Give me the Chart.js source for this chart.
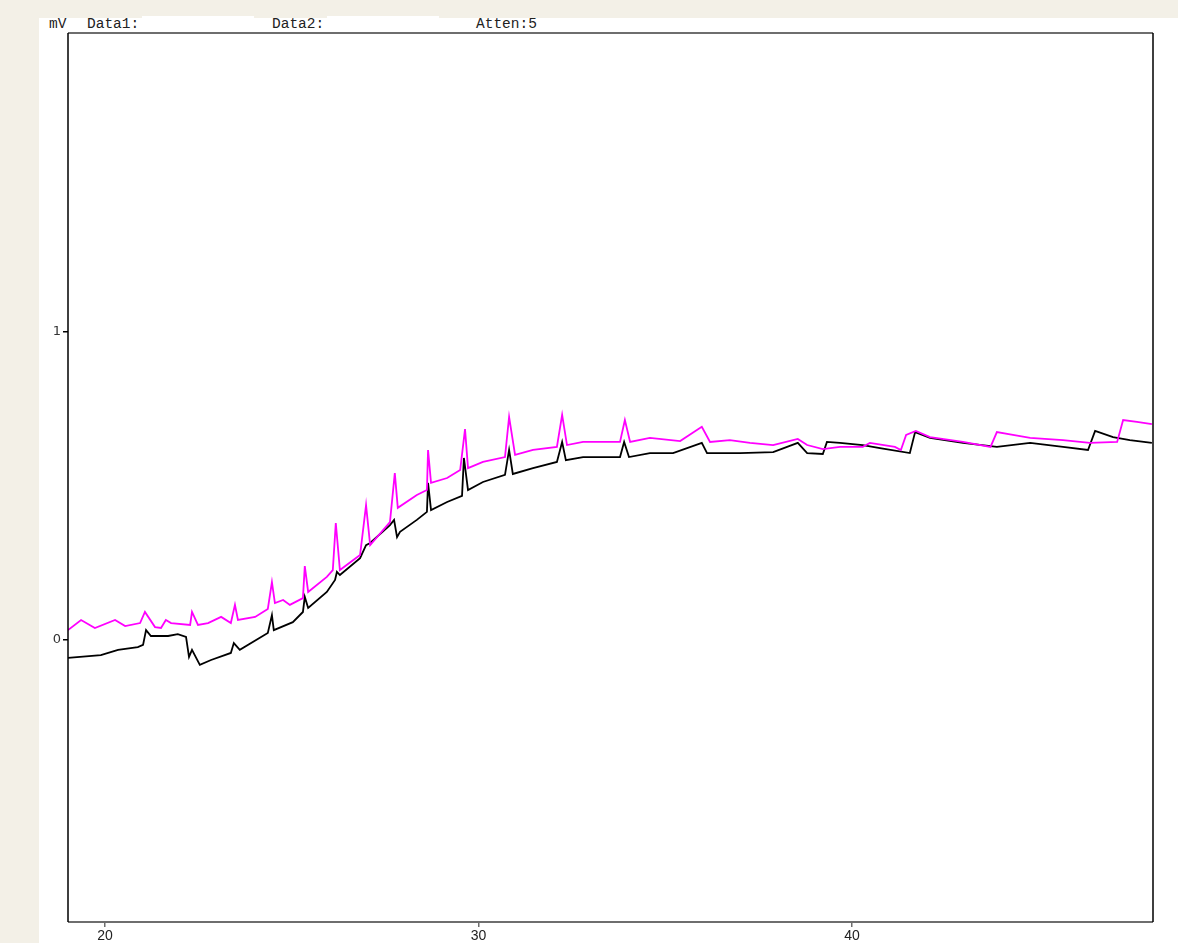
<!DOCTYPE html>
<html lang="en">
<head>
    <meta charset="UTF-8">
    <title>Chromatogram</title>
    <script src="https://cdn.jsdelivr.net/npm/chart.js"></script>
    <style>
        body { margin: 0; background: #f3f0e7; width: 1178px; height: 943px; overflow: hidden; position: relative; }
        #panel { position: absolute; left: 39px; top: 18px; width: 1139px; height: 925px; background: #fff; }
        .field { position: absolute; top: 16px; height: 6px; background: #fff; }
        .hdr { position: absolute; top: 16px; font-family: "Liberation Mono", monospace; font-size: 14.5px; color: #222; white-space: pre; }
        canvas { position: absolute; left: 39px; top: 17px; }
    </style>
</head>
<body>
    <div id="panel"></div>
    <div class="field" style="left:142px; width:112px;"></div>
    <div class="field" style="left:327px; width:112px;"></div>
    <div class="hdr" style="left:49px;">mV</div>
    <div class="hdr" style="left:87px;">Data1:</div>
    <div class="hdr" style="left:272px;">Data2:</div>
    <div class="hdr" style="left:476px;">Atten:5</div>
    <canvas id="grafico" width="1123" height="926"></canvas>

    <script>
        // retention time (min) and signal (mV)
        const blackTime = [19.01, 19.89, 20.35, 20.88, 21.02, 21.10, 21.23, 21.69, 21.95, 22.17, 22.25, 22.33, 22.54, 22.84, 23.37, 23.45, 23.61,
            24.36, 24.47, 24.52, 25.03, 25.30, 25.35, 25.44, 25.94, 26.16, 26.21, 26.29, 26.83, 26.99, 27.10, 27.63, 27.74, 27.82, 27.90,
            28.35, 28.62, 28.65, 28.73, 29.16, 29.56, 29.61, 29.72, 30.12, 30.71, 30.82, 30.92, 31.46, 32.10, 32.24, 32.34, 32.80, 33.79,
            33.90, 34.03, 34.59, 35.21, 35.98, 36.12, 37.00, 37.89, 38.55, 38.80, 39.22, 39.33, 39.68, 40.29, 40.75, 41.55, 41.69, 42.09,
            42.97, 43.88, 44.77, 45.65, 46.32, 46.51, 46.99, 47.44, 48.03];
        const blackValue = [-0.058, -0.049, -0.032, -0.023, -0.016, 0.032, 0.013, 0.013, 0.019, 0.010, -0.055, -0.032, -0.081, -0.065, -0.042, -0.010, -0.032,
            0.023, 0.081, 0.032, 0.058, 0.091, 0.140, 0.104, 0.156, 0.195, 0.221, 0.211, 0.266, 0.308, 0.315, 0.373, 0.390, 0.334, 0.351,
            0.390, 0.416, 0.510, 0.422, 0.448, 0.468, 0.591, 0.487, 0.513, 0.536, 0.617, 0.539, 0.558, 0.578, 0.643, 0.584, 0.594, 0.594,
            0.643, 0.594, 0.607, 0.607, 0.640, 0.607, 0.607, 0.610, 0.640, 0.607, 0.604, 0.643, 0.640, 0.633, 0.623, 0.607, 0.675, 0.656,
            0.640, 0.627, 0.640, 0.627, 0.617, 0.679, 0.659, 0.649, 0.640];

        const pinkTime = [19.01, 19.36, 19.73, 20.27, 20.54, 20.94, 21.07, 21.34, 21.50, 21.63, 21.77, 22.28, 22.33, 22.49, 22.76, 23.11, 23.37,
            23.48, 23.56, 24.02, 24.36, 24.47, 24.55, 24.77, 24.95, 25.30, 25.35, 25.44, 25.94, 26.10, 26.18, 26.29, 26.83, 26.99, 27.10,
            27.63, 27.76, 27.84, 28.35, 28.62, 28.65, 28.73, 29.16, 29.51, 29.64, 29.72, 30.12, 30.71, 30.82, 30.98, 31.46, 32.10, 32.24,
            32.37, 32.80, 33.79, 33.92, 34.06, 34.59, 35.40, 35.98, 36.20, 36.73, 37.27, 37.89, 38.55, 38.80, 39.22, 39.68, 40.29, 40.48,
            41.15, 41.31, 41.45, 41.71, 42.09, 42.97, 43.71, 43.88, 44.31, 44.77, 45.65, 46.37, 47.10, 47.26, 47.63, 48.03];
        const pinkValue = [0.032, 0.065, 0.039, 0.065, 0.045, 0.055, 0.091, 0.042, 0.039, 0.065, 0.055, 0.049, 0.091, 0.049, 0.055, 0.075, 0.055,
            0.114, 0.065, 0.075, 0.101, 0.188, 0.120, 0.130, 0.114, 0.136, 0.240, 0.156, 0.205, 0.227, 0.380, 0.227, 0.276, 0.438, 0.308,
            0.383, 0.542, 0.429, 0.471, 0.487, 0.617, 0.510, 0.526, 0.552, 0.685, 0.558, 0.578, 0.594, 0.724, 0.601, 0.617, 0.627, 0.731,
            0.633, 0.643, 0.643, 0.714, 0.643, 0.656, 0.646, 0.692, 0.643, 0.649, 0.640, 0.633, 0.653, 0.633, 0.620, 0.627, 0.627, 0.640,
            0.627, 0.617, 0.666, 0.679, 0.659, 0.643, 0.627, 0.675, 0.666, 0.656, 0.649, 0.640, 0.643, 0.714, 0.708, 0.701];

        const xTicks = [20, 30, 40];
        const yTicks = [0, 1];

        function toPoints(xs, ys) {
            return xs.map((x, i) => ({ x: x, y: ys[i] }));
        }

        // box round the plot area: grey top/bottom, black sides
        const frame = {
            id: 'frame',
            afterDraw(chart) {
                const a = chart.chartArea;
                const c = chart.ctx;
                c.save();
                c.lineWidth = 2;
                c.strokeStyle = '#6e6e6e';
                c.beginPath();
                c.moveTo(a.left, a.top); c.lineTo(a.right, a.top);
                c.moveTo(a.left, a.bottom); c.lineTo(a.right, a.bottom);
                c.stroke();
                c.strokeStyle = '#000';
                c.lineWidth = 1.5;
                c.beginPath();
                c.moveTo(a.left, a.top); c.lineTo(a.left, a.bottom);
                c.moveTo(a.right, a.top); c.lineTo(a.right, a.bottom);
                c.stroke();
                c.restore();
            }
        };

        const ctx = document.getElementById('grafico').getContext('2d');
        new Chart(ctx, {
            type: 'line',
            data: {
                datasets: [
                    {
                        label: 'Data2',
                        data: toPoints(pinkTime, pinkValue),
                        borderColor: '#ff00ff',
                        borderWidth: 1.8,
                        pointRadius: 0,
                        fill: false,
                    },
                    {
                        label: 'Data1',
                        data: toPoints(blackTime, blackValue),
                        borderColor: '#000000',
                        borderWidth: 1.8,
                        pointRadius: 0,
                        fill: false,
                    }
                ]
            },
            plugins: [frame],
            options: {
                responsive: false,
                animation: false,
                devicePixelRatio: 1,
                layout: { padding: { top: 16, right: 9, left: 0, bottom: 0 } },
                plugins: {
                    legend: { display: false },
                    tooltip: { enabled: false },
                },
                scales: {
                    x: {
                        type: 'linear',
                        min: 19.01,
                        max: 48.06,
                        afterBuildTicks: (s) => { s.ticks = xTicks.map(v => ({ value: v })); },
                        afterFit: (s) => { s.height = 21; },
                        border: { display: false },
                        grid: { drawOnChartArea: false, drawTicks: true, tickLength: 5, color: '#6e6e6e', lineWidth: 1.5 },
                        ticks: { padding: 1, maxRotation: 0, color: '#222', font: { family: 'Liberation Sans', size: 14 } },
                    },
                    y: {
                        min: -0.9156,
                        max: 1.9708,
                        afterBuildTicks: (s) => { s.ticks = yTicks.map(v => ({ value: v })); },
                        afterFit: (s) => { s.width = 29; },
                        border: { display: false },
                        grid: { drawOnChartArea: false, drawTicks: true, tickLength: 5, color: '#000', lineWidth: 1.5 },
                        ticks: { padding: 2, color: '#333', font: { family: 'DejaVu Sans', size: 13 } },
                    },
                },
            },
        });
    </script>
</body>
</html>
